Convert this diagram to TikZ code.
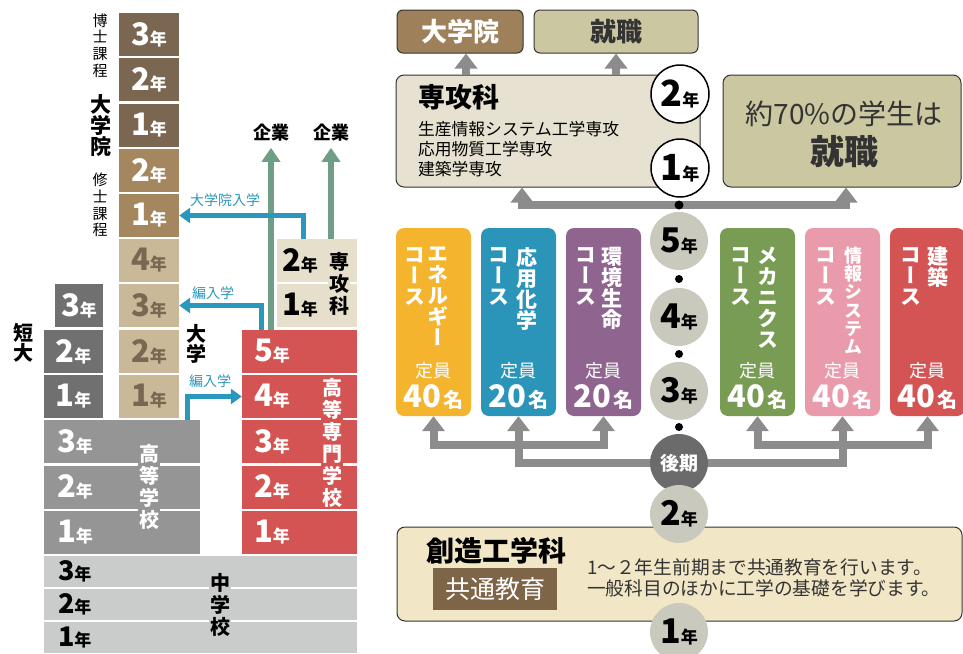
\documentclass[tikz,border=0pt]{standalone}
\usepackage{fontspec}
\setmainfont{Noto Sans CJK JP}
\newfontfamily\tatefont{Noto Sans CJK JP}[RawFeature=+vert]
\usetikzlibrary{arrows.meta, calc}

\definecolor{phd}{HTML}{7B6651}
\definecolor{ms}{HTML}{A4875F}
\definecolor{unitan}{HTML}{C9B999}
\definecolor{jcgray}{HTML}{707070}
\definecolor{hsgray}{HTML}{959595}
\definecolor{jhsgray}{HTML}{CACBCB}
\definecolor{kosen}{HTML}{D45454}
\definecolor{senkou}{HTML}{E5DFCB}
\definecolor{kigyo}{HTML}{6E9E86}
\definecolor{nyugaku}{HTML}{2A97BD}
\definecolor{gsbrown}{HTML}{9E805B}
\definecolor{olive}{HTML}{CBC7A1}
\definecolor{senkoubg}{HTML}{E6E1D0}
\definecolor{arrowgray}{HTML}{8C8C8C}
\definecolor{circgray}{HTML}{C9C9BE}
\definecolor{koukigray}{HTML}{6B6B6B}
\definecolor{basecream}{HTML}{F1E6C5}
\definecolor{commonbrown}{HTML}{7F6548}
\definecolor{energy}{HTML}{F5B42D}
\definecolor{chem}{HTML}{2A95B8}
\definecolor{env}{HTML}{8F6590}
\definecolor{mech}{HTML}{789C53}
\definecolor{info}{HTML}{E99BAB}
\definecolor{arch}{HTML}{D45353}
\definecolor{boxline}{HTML}{333333}

\newcommand{\nen}[2][31]{{\fontsize{#1}{#1}\selectfont #2}{\fontsize{17}{17}\selectfont 年}}
\newcommand{\teiin}[1]{{\fontsize{31}{31}\selectfont #1}\,{\fontsize{20}{20}\selectfont 名}}

\begin{document}
\begin{tikzpicture}[x=1pt, y=-1pt, >={Triangle[width=22pt,length=15pt]},
    yrbox/.style={minimum height=43pt, inner sep=0pt, font=\bfseries},
    phdbox/.style={yrbox, fill=phd, text=white, minimum width=60pt},
    msbox/.style={yrbox, fill=ms, text=white, minimum width=60pt},
    unibox/.style={yrbox, fill=unitan, text=phd, minimum width=60pt},
    jcbox/.style={yrbox, fill=jcgray, text=white, minimum width=59pt},
    hsbox/.style={yrbox, fill=hsgray, text=white, text width=130pt, inner xsep=13pt, align=left},
    jhsbox/.style={yrbox, minimum height=31pt, fill=jhsgray, text=black, text width=285pt, inner xsep=14pt, align=left},
    ksbox/.style={yrbox, fill=kosen, text=white, text width=91pt, inner xsep=12pt, align=left},
    skbox/.style={yrbox, fill=senkou, text=black, text width=70pt, inner xsep=5pt, align=left},
    vlabel/.style={align=center, inner sep=1pt, font=\bfseries\fontsize{20}{22}\selectfont},
    sublabel/.style={align=center, inner sep=0pt, font=\fontsize{15}{16.7}\selectfont},
    firmlabel/.style={inner sep=2pt, font=\bfseries\fontsize{18}{18}\selectfont},
    bluetext/.style={text=nyugaku, inner sep=0pt, font=\fontsize{14}{14}\selectfont},
    greenarrow/.style={draw=kigyo, line width=6pt, -{Triangle[width=18pt,length=14pt]}},
    bluearrow/.style={draw=nyugaku, line width=5pt, -{Triangle[width=15pt,length=11pt]}},
    garrow/.style={draw=arrowgray, line width=8pt},
    topbox/.style={draw=boxline, line width=1pt, rounded corners=6pt, minimum height=43pt, inner sep=0pt, font=\bfseries\fontsize{26}{26}\selectfont},
    bigbox/.style={draw=boxline, line width=1pt, rounded corners=8pt, minimum height=112pt},
    whitecirc/.style={circle, draw=black, line width=1.5pt, fill=white, minimum size=58pt, inner sep=0pt, font=\bfseries},
    yrcirc/.style={circle, fill=circgray, minimum size=58pt, inner sep=0pt, font=\bfseries},
    course/.style={rounded corners=8pt, minimum width=75pt, minimum height=188pt, inner sep=0pt},
    coursename/.style={anchor=north, text=white, align=center, inner sep=0pt, font=\tatefont\bfseries\fontsize{21}{21}\selectfont},
    capacity/.style={text=white, inner sep=0pt, font=\fontsize{18}{18}\selectfont},
    capnum/.style={text=white, inner sep=0pt, font=\bfseries}]

        \useasboundingbox (0,0) rectangle (963,653);

        \node[phdbox] (phd3) at (149,34.5) {\nen{3}};
        \node[phdbox] (phd2) at (149,79.5) {\nen{2}};
        \node[phdbox] (phd1) at (149,125.5) {\nen{1}};
        \node[msbox] (ms2) at (149,170.5) {\nen{2}};
        \node[msbox] (ms1) at (149,215.5) {\nen{1}};
        \node[unibox] (un4) at (149,260.5) {\nen{4}};
        \node[unibox] (un3) at (149,305.5) {\nen{3}};
        \node[unibox] (un2) at (149,351.5) {\nen{2}};
        \node[unibox] (un1) at (149,396.5) {\nen{1}};

        \node[jcbox, minimum width=48pt] (jc3) at (79,305.5) {\nen{3}};
        \node[jcbox] (jc2) at (73.5,351.5) {\nen{2}};
        \node[jcbox] (jc1) at (73.5,396.5) {\nen{1}};

        \node[hsbox] (hs3) at (122,441.5) {\nen{3}};
        \node[hsbox] (hs2) at (122,487) {\nen{2}};
        \node[hsbox] (hs1) at (122,532.5) {\nen{1}};

        \node[jhsbox] (jhs3) at (200.5,571) {\nen[27]{3}};
        \node[jhsbox] (jhs2) at (200.5,604) {\nen[27]{2}};
        \node[jhsbox] (jhs1) at (200.5,637) {\nen[27]{1}};

        \node[ksbox] (ks5) at (299.5,351.5) {\nen{5}};
        \node[ksbox] (ks4) at (299.5,396.5) {\nen{4}};
        \node[ksbox] (ks3) at (299.5,441.5) {\nen{3}};
        \node[ksbox] (ks2) at (299.5,487) {\nen{2}};
        \node[ksbox] (ks1) at (299.5,532.5) {\nen{1}};

        \node[skbox] (sk2) at (317,260.5) {\nen{2}};
        \node[skbox] (sk1) at (317,305.5) {\nen{1}};

        \node[sublabel] (phdlabel) at (100,45.5) {博\\士\\課\\程};
        \node[vlabel, font=\bfseries\fontsize{21}{21}\selectfont] (gslabel) at (101,126) {大\\学\\院};
        \node[sublabel] (mslabel) at (100,205) {修\\士\\課\\程};
        \node[vlabel, font=\bfseries\fontsize{20}{20.5}\selectfont] (jclabel) at (23,343) {短\\大};
        \node[vlabel, font=\bfseries\fontsize{20}{20.5}\selectfont] (unilabel) at (196,344) {大\\学};
        \node[vlabel, fill=hsgray, text=white] (hslabel) at (149,486.5) {高\\等\\学\\校};
        \node[vlabel, fill=jhsgray] (jhslabel) at (220,605) {中\\学\\校};
        \node[vlabel, fill=kosen, text=white] (kslabel) at (332,443) {高\\等\\専\\門\\学\\校};
        \node[vlabel, fill=senkou] (sklabel) at (339,284) {専\\攻\\科};

        \node[firmlabel] (firm1) at (271,133) {企業};
        \node[firmlabel] (firm2) at (331,133) {企業};
        \draw[greenarrow] (ks5.north -| firm1.south) -- ([yshift=-4pt]firm1.south);
        \draw[greenarrow] (sk2.north -| firm2.south) -- ([yshift=-4pt]firm2.south);

        \draw[bluearrow] ([xshift=-14pt]sk2.north) |- (ms1.east);
        \draw[bluearrow] ([xshift=-38.5pt]ks5.north) |- (un3.east);
        \draw[bluearrow] ([xshift=65pt]hs3.north) |- (ks4.west);
        \node[bluetext] (gsentry) at (225,200) {大学院入学};
        \node[bluetext] (transfer1) at (213,293) {編入学};
        \node[bluetext] (transfer2) at (210,381) {編入学};

        \node[topbox, fill=gsbrown, text=white, minimum width=126pt] (gs) at (460,31.5) {大学院};
        \node[topbox, fill=olive, text=boxline, minimum width=164pt] (job) at (616,31.5) {就職};
        \node[bigbox, fill=senkoubg, minimum width=304pt, text width=260pt, align=left,
            font=\fontsize{16.8}{20}\selectfont] (sk) at (548,131)
            {{\bfseries\fontsize{27}{27}\selectfont 専攻科}\\[8pt]生産情報システム工学専攻\\応用物質工学専攻\\建築学専攻};
        \node[bigbox, fill=olive, minimum width=238pt] (job70) at (842,131) {};
        \node[align=center, text=boxline, inner sep=0pt, font=\fontsize{28}{40}\selectfont] (job70text) at (844,134)
            {約70\%の学生は\\{\bfseries\fontsize{34}{34}\selectfont 就職}};

        \coordinate (gsfoot) at ([xshift=6pt]gs.south);
        \draw[garrow, ->] (gsfoot |- sk.north) -- (gsfoot);
        \draw[garrow, ->] (job.south |- sk.north) -- (job.south);

        \node[whitecirc] (skyr2) at (680,94) {\nen[36]{2}};
        \node[whitecirc] (skyr1) at (680,168) {\nen[36]{1}};

        \coordinate (skfork) at (679,205);
        \draw[garrow, <->] ([xshift=-26pt]sk.south) |- (skfork) -| ([xshift=4pt]job70.south);
        \fill (skfork) circle (4.5pt);

        \node[course, fill=energy] (en) at (433.5,322) {};
        \node[course, fill=chem] (ch) at (518.5,322) {};
        \node[course, fill=env] (ev) at (603.5,322) {};
        \node[course, fill=mech] (mc) at (757.5,322) {};
        \node[course, fill=info] (inf) at (842.5,322) {};
        \node[course, fill=arch] (ar) at (927.5,322) {};

        \node[coursename] (enname) at (438,247) {エ\\ネ\\ル\\ギ\\ー};
        \node[coursename] (enko) at (415,247) {コ\\ー\\ス};
        \node[coursename] (chname) at (527,247) {応\\用\\化\\学};
        \node[coursename] (chko) at (499,247) {コ\\ー\\ス};
        \node[coursename] (evname) at (612,247) {環\\境\\生\\命};
        \node[coursename] (evko) at (586,247) {コ\\ー\\ス};
        \node[coursename] (mcname) at (768,247) {メ\\カ\\ニ\\ク\\ス};
        \node[coursename] (mcko) at (741,247) {コ\\ー\\ス};
        \node[coursename, font=\tatefont\bfseries\fontsize{18}{18.2}\selectfont] (infname) at (853,247) {情\\報\\シ\\ス\\テ\\ム};
        \node[coursename] (infko) at (826,247) {コ\\ー\\ス};
        \node[coursename] (arname) at (938,247) {建\\築};
        \node[coursename] (arko) at (911,247) {コ\\ー\\ス};

        \node[capacity] (encap) at (433.5,371) {定員};
        \node[capacity] (chcap) at (518.5,371) {定員};
        \node[capacity] (evcap) at (603.5,371) {定員};
        \node[capacity] (mccap) at (757.5,371) {定員};
        \node[capacity] (infcap) at (842.5,371) {定員};
        \node[capacity] (arcap) at (927.5,371) {定員};
        \node[capnum] (ennum) at (433.5,397) {\teiin{40}};
        \node[capnum] (chnum) at (518.5,397) {\teiin{20}};
        \node[capnum] (evnum) at (603.5,397) {\teiin{20}};
        \node[capnum] (mcnum) at (757.5,397) {\teiin{40}};
        \node[capnum] (infnum) at (842.5,397) {\teiin{40}};
        \node[capnum] (arnum) at (927.5,397) {\teiin{40}};

        \node[yrcirc] (c5) at (679,241) {\nen[34]{5}};
        \node[yrcirc] (c4) at (679,317) {\nen[34]{4}};
        \node[yrcirc] (c3) at (679,391) {\nen[34]{3}};
        \node[yrcirc, fill=koukigray, text=white, font=\bfseries\fontsize{19}{19}\selectfont] (kouki) at (679,463) {後期};
        \fill ($(c5)!0.5!(c4)$) circle (4pt);
        \fill ($(c4)!0.5!(c3)$) circle (4pt);
        \fill ($(c3)!0.5!(kouki)$) circle (4pt);

        \coordinate (lrail) at (518.5,445);
        \coordinate (rrail) at (842.5,445);
        \draw[garrow, <->] (en.south) |- (lrail) -| (ev.south);
        \draw[garrow, ->] (kouki.west) -| (ch.south);
        \draw[garrow, <->] (mc.south) |- (rrail) -| (ar.south);
        \draw[garrow, ->] (kouki.east) -| (inf.south);

        \node[draw=boxline, line width=1pt, rounded corners=8pt, fill=basecream, minimum width=565pt, minimum height=94pt] (base) at (679.5,574) {};
        \node[inner sep=0pt, font=\bfseries\fontsize{28}{28}\selectfont] (dept) at (496,551) {創造工学科};
        \node[fill=commonbrown, text=white, minimum width=124pt, minimum height=42pt, inner sep=0pt, font=\fontsize{25}{25}\selectfont] (common) at (495,589) {共通教育};
        \node[anchor=west, align=left, inner sep=0pt, text=boxline, font=\fontsize{18.7}{21}\selectfont] (desc) at (587,577.5)
            {1〜２年生前期まで共通教育を行います。\\一般科目のほかに工学の基礎を学びます。};

        \node[yrcirc] (c2) at (679,514) {\nen[34]{2}};
        \node[yrcirc] (c1) at (679,632) {\nen[34]{1}};
    \end{tikzpicture}
\end{document}
